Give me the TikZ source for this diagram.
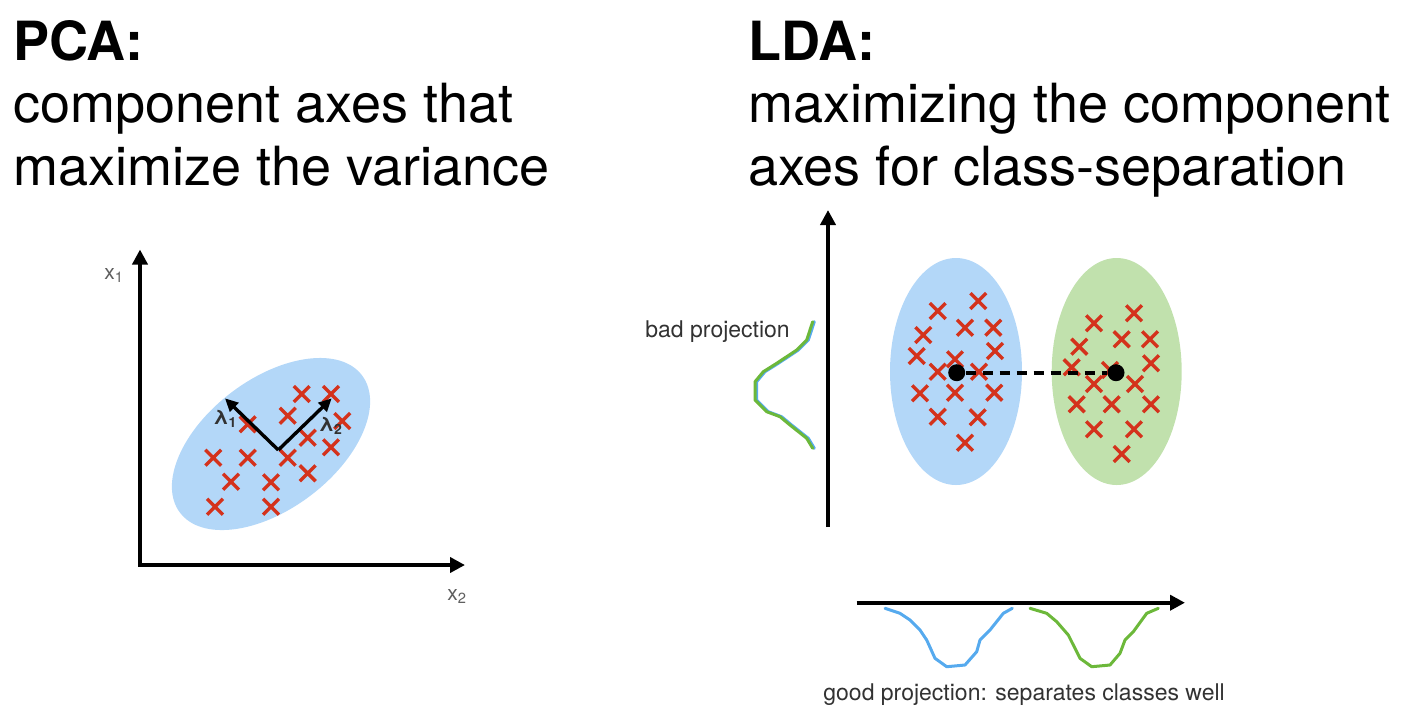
\documentclass[tikz,border=0pt]{standalone}
\usepackage{fontspec}
\setmainfont{TeX Gyre Heros}
\usetikzlibrary{arrows.meta,shapes.misc}

\definecolor{xred}{RGB}{212,50,28}
\definecolor{pcablue}{RGB}{179,215,248}
\definecolor{ldagreen}{RGB}{193,225,173}
\definecolor{curveblue}{RGB}{86,170,238}
\definecolor{curvegreen}{RGB}{108,184,58}
\definecolor{labelgray}{RGB}{95,95,95}
\definecolor{textgray}{RGB}{50,50,50}

\tikzset{
  >={Triangle[length=7.5pt,width=7.5pt]},
  heading/.style={anchor=base west, inner sep=0pt, font=\fontsize{27}{32}\selectfont\bfseries},
  subheading/.style={anchor=base west, inner sep=0pt, font=\fontsize{27}{32}\selectfont},
  smalllabel/.style={anchor=base west, inner sep=0pt, text=textgray, font=\fontsize{11.5}{13}\selectfont},
  axislabel/.style={anchor=base west, inner sep=0pt, text=labelgray, font=\fontsize{10.5}{12}\selectfont},
  eiglabel/.style={anchor=base west, inner sep=0pt, text=textgray, font=\fontsize{10}{11}\selectfont\bfseries},
  axis/.style={line width=2.2pt, ->},
  eigvec/.style={line width=1.7pt, -{Triangle[length=6.5pt,width=6pt]}},
  xmark/.style={cross out, draw=xred, line width=1.7pt, minimum size=6.2pt, inner sep=0pt},
  meandot/.style={circle, fill=black, minimum size=8.5pt, inner sep=0pt},
  meanlink/.style={line width=2.2pt, dash pattern=on 5pt off 3.5pt},
  curve/.style={line width=1.5pt, line join=round, line cap=round}
}

\begin{document}
\begin{tikzpicture}[x=0.5pt,y=-0.5pt]
\useasboundingbox (0,0) rectangle (1408,720);

% headings
\node[heading] (pcatitle) at (13,60) {PCA:};
\node[subheading] (pcaline1) at (13,122) {component axes that};
\node[subheading] (pcaline2) at (13,185) {maximize the variance};
\node[heading] (ldatitle) at (748,60) {LDA:};
\node[subheading] (ldaline1) at (748,122) {maximizing the component};
\node[subheading] (ldaline2) at (748,185) {axes for class-separation};

% PCA
\fill[pcablue, rotate around={37:(271,444)}] (271,444) ellipse [x radius=114, y radius=65];
\foreach \x/\y [count=\i] in {301.7/394, 331/394, 287.7/415.7, 247.7/424.3, 342.3/421,
    307.7/437.7, 331/447.3, 213.3/457.7, 247.7/457.7, 287.7/457.7, 307.7/473.3,
    231/481.7, 271/482.3, 215/506.7, 271/506.7}
  \node[xmark] (p\i) at (\x,\y) {};
\coordinate (pcaytop) at (140,249.5);
\coordinate (pcaxend) at (465,565);
\draw[axis,<->] (pcaytop) |- (pcaxend);
\node[axislabel] (x1) at (104,279) {x\textsubscript{1}};
\node[axislabel] (x2) at (447,600) {x\textsubscript{2}};
\coordinate (eigorigin) at (278.3,450);
\coordinate (eig1) at (225,398.3);
\coordinate (eig2) at (331.7,398.3);
\draw[eigvec] (eigorigin) -- (eig1);
\draw[eigvec] (eigorigin) -- (eig2);
\node[eiglabel] (lam1) at (213,424) {λ\textsubscript{1}};
\node[eiglabel] (lam2) at (318.5,431) {λ\textsubscript{2}};

% LDA
\fill[pcablue] (956,371.5) ellipse [x radius=66, y radius=113.5];
\fill[ldagreen] (1116.7,371.5) ellipse [x radius=65, y radius=113.5];
\foreach \x/\y [count=\i] in {978.3/301, 937.7/311, 965/327.7, 993.3/327.7, 923.3/335,
    995/351, 916.7/356, 955/359.3, 937.7/371.7, 979/371.7, 920/393.3, 955/392.7,
    994.3/392.7, 937.7/416.7, 977.7/417.3, 965/442.7}
  \node[xmark] (b\i) at (\x,\y) {};
\foreach \x/\y [count=\i] in {1134/313.3, 1094/323.3, 1121.7/339.3, 1150/339.3, 1079.3/346.7,
    1151/363.3, 1071.7/367.3, 1110/370, 1094/384, 1135/384, 1076.7/404.3, 1111.7/404.3,
    1151/404.3, 1094/429.3, 1134/429.3, 1121.7/454}
  \node[xmark] (g\i) at (\x,\y) {};
\node[meandot] (bluemean) at (956.7,372.7) {};
\node[meandot] (greenmean) at (1116,372.7) {};
\draw[meanlink] (bluemean) -- (greenmean);

\coordinate (ldaybottom) at (828,527);
\coordinate (ldaytop) at (828,210);
\draw[axis] (ldaybottom) -- (ldaytop);
\coordinate (ldaxstart) at (856.7,602.7);
\coordinate (ldaxend) at (1185,602.7);
\draw[axis] (ldaxstart) -- (ldaxend);

% bad projection
\draw[curve, curveblue, xshift=0.8pt] (812.7,321.7) -- (806.7,340) -- (796.7,350) -- (776.7,363.3)
  -- (763.3,371.7) -- (755,381.7) -- (755,400) -- (766.7,411.7) -- (780,416.7) -- (790,425)
  -- (806.7,438.3) -- (812.7,448.3);
\draw[curve, curvegreen] (812.7,321.7) -- (806.7,340) -- (796.7,350) -- (776.7,363.3)
  -- (763.3,371.7) -- (755,381.7) -- (755,400) -- (766.7,411.7) -- (780,416.7) -- (790,425)
  -- (806.7,438.3) -- (812.7,448.3);
\node[smalllabel] (badlabel) at (645,337) {bad projection};

% good projection
\draw[curve, curveblue] (885,608.3) -- (900,613.3) -- (910,620) -- (920,630) -- (926.7,640)
  -- (935,658.3) -- (946.7,666.7) -- (965,665) -- (976.7,651.7) -- (980,640) -- (990,630)
  -- (1003.3,613.3) -- (1012.3,608.3);
\draw[curve, curvegreen] (1030,608.3) -- (1046.7,613.3) -- (1056.7,621.7) -- (1068.3,635)
  -- (1080,658.3) -- (1091.7,666.7) -- (1110,665) -- (1120,653.3) -- (1125,640)
  -- (1133.3,631.7) -- (1146.7,613.3) -- (1158.3,608.3);
\node[smalllabel] (goodlabel) at (823,700) {good projection: separates classes well};
\end{tikzpicture}
\end{document}
